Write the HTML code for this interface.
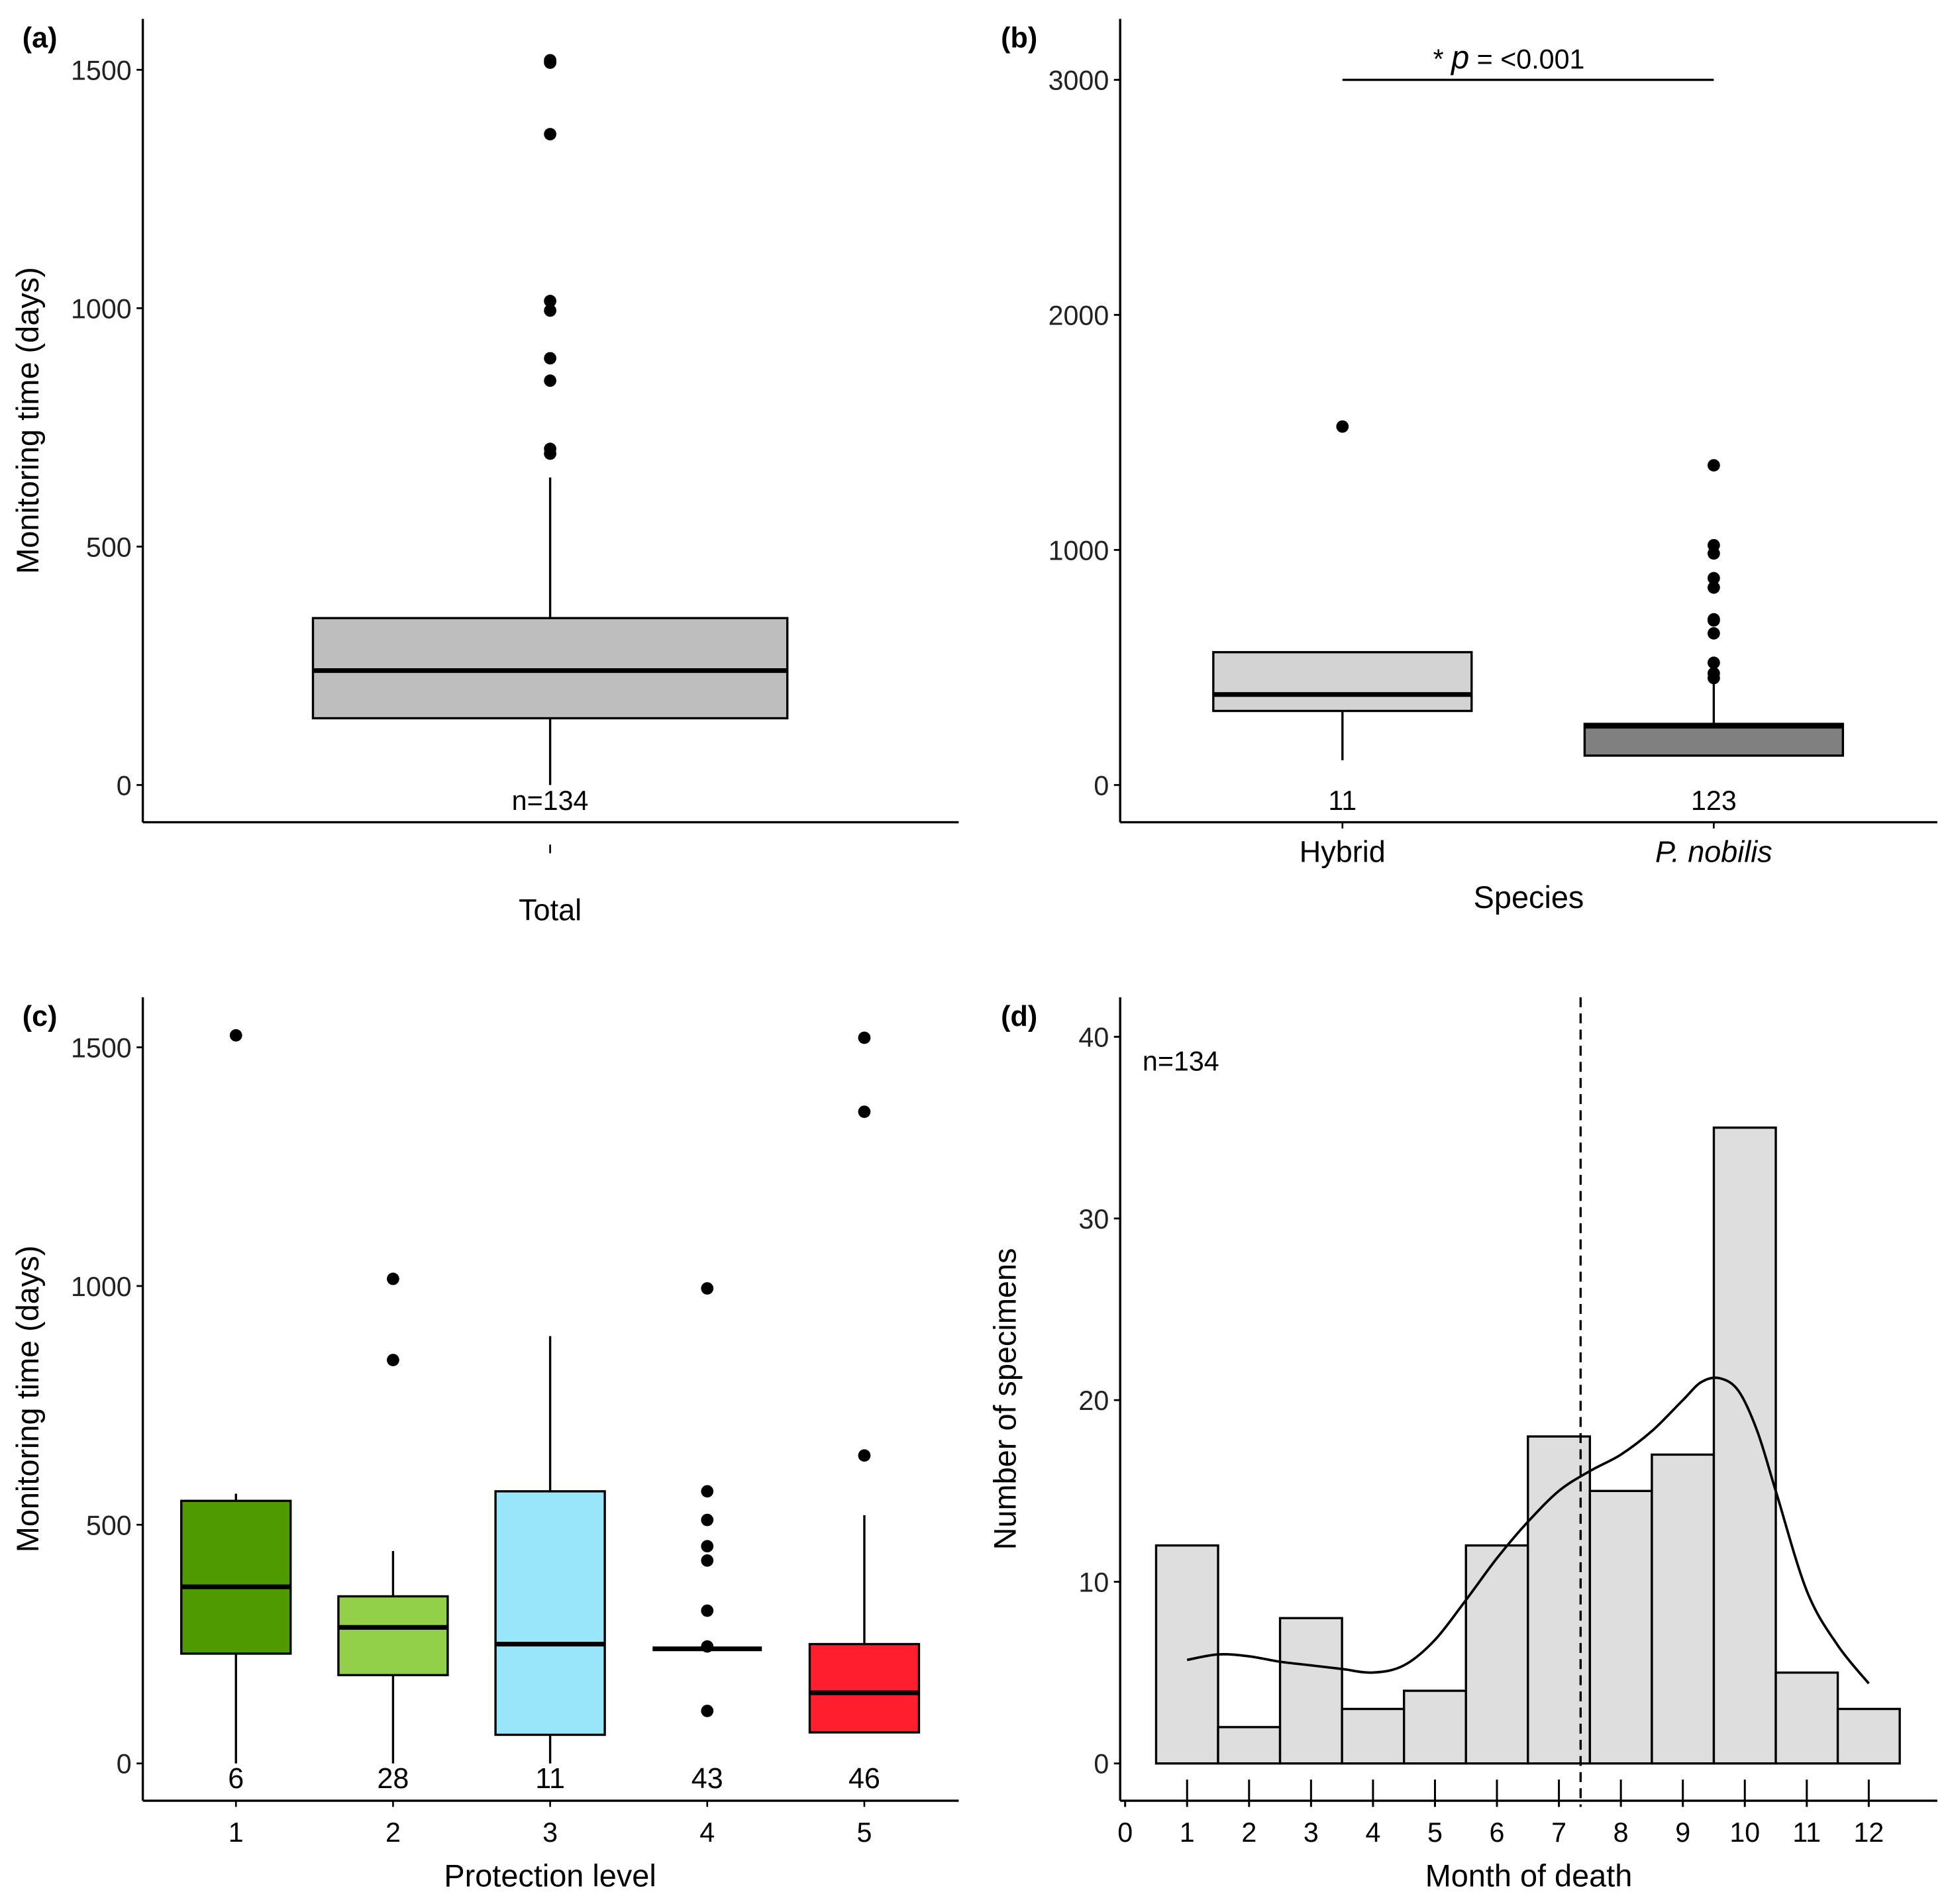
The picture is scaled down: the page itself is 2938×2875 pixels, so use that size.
<!DOCTYPE html>
<html><head><meta charset="utf-8"><style>
html,body{margin:0;padding:0;background:#fff}
svg{display:block;font-family:"Liberation Sans",sans-serif}
</style></head><body>
<svg id="fig" xmlns="http://www.w3.org/2000/svg" width="2938" height="2875" viewBox="0 0 1567 1533">
<rect width="1567" height="1533" fill="#fff"/>
</svg>
<script>
// Panel a data
const aStats = [140, 240, 350, 0, 645]; // q1, median, q3, whiskerLow, whiskerHigh
const aOutliers = [1520, 1515, 1365, 1015, 995, 895, 848, 705, 695];
const aTicks = [0, 500, 1000, 1500];
// Panel b data
const bCategories = ["Hybrid", "P. nobilis"];
const bCounts = ["11", "123"];
const bStats = [[315, 385, 565, 105, 315], [125, 250, 260, 125, 450]];
const bOutliers = [[1525], [455, 475, 520, 645, 700, 705, 840, 880, 985, 1020, 1360]];
const bTicks = [0, 1000, 2000, 3000];
// Panel c data
const cCategories = ["1", "2", "3", "4", "5"];
const cCounts = ["6", "28", "11", "43", "46"];
const cStats = [[230, 370, 550, 0, 565], [185, 285, 350, 0, 445], [60, 250, 570, 0, 895], [240, 240, 240, 240, 240], [65, 148, 250, 65, 520]];
const cOutliers = [[1525], [1015, 845], [], [995, 570, 510, 455, 425, 320, 245, 110], [645, 1365, 1520]];
const cColors = ["#4f9a00", "#92d04a", "#99e6fb", "#ffffff", "#ff1e2d"];
const cTicks = [0, 500, 1000, 1500];
// Panel d data
const dMonths = [1, 2, 3, 4, 5, 6, 7, 8, 9, 10, 11, 12];
const dCounts = [12, 2, 8, 3, 4, 12, 18, 15, 17, 35, 5, 3];
const dDensX = [1, 1.5, 2, 2.5, 3, 3.5, 4, 4.5, 5, 5.5, 6, 6.5, 7, 7.5, 8, 8.5, 9, 9.3, 9.6, 9.9, 10.2, 10.5, 11, 11.5, 12];
const dDensY = [5.7, 6.0, 5.9, 5.6, 5.4, 5.2, 5.0, 5.4, 6.8, 9.0, 11.3, 13.3, 15.0, 16.1, 17.0, 18.3, 20.0, 21.0, 21.2, 20.5, 18.3, 15.0, 9.5, 6.5, 4.4];
const dMeanLine = 7.35;
const dYTicks = [0, 10, 20, 30, 40];
const dXTicks = [0,1,2,3,4,5,6,7,8,9,10,11,12];

const NS = "http://www.w3.org/2000/svg";
const svg = document.getElementById("fig");
function mk(tag, attrs, parent, txt) {
  const e = document.createElementNS(NS, tag);
  for (const k in attrs) e.setAttribute(k, attrs[k]);
  if (txt !== undefined) e.textContent = txt;
  (parent || svg).appendChild(e);
  return e;
}
function grp(name) {
  const g = mk("g", {});
  
  
  return g;
}
function axes(g, left, bottom, right, top, yTicks, ys, yTitle, ytx) {
  mk("line", {x1: left, y1: top, x2: left, y2: bottom, stroke: "#000", "stroke-width": 1.8}, g);
  mk("line", {x1: left, y1: bottom, x2: right, y2: bottom, stroke: "#000", "stroke-width": 1.8}, g);
  yTicks.forEach(t => {
    mk("line", {x1: left - 5, y1: ys(t), x2: left, y2: ys(t), stroke: "#000", "stroke-width": 1.5}, g);
    const tx = mk("text", {x: left - 9, y: ys(t) + 8, "text-anchor": "end", "font-size": 22, fill: "#222"}, g, String(t));
    
    
  });
  const yc = (top + bottom) / 2;
  const tt = mk("text", {x: ytx, y: yc, "text-anchor": "middle", "font-size": 25, transform: `rotate(-90 ${ytx} ${yc})`}, g, yTitle);
  
  
}
function box(g, cx, hw, st, ys, fill, outl, name) {
  const bg = mk("g", {}, g);
  
  
  const [q1, med, q3, lo, hi] = st;
  mk("line", {x1: cx, y1: ys(q3), x2: cx, y2: ys(hi), stroke: "#000", "stroke-width": 1.8}, bg);
  mk("line", {x1: cx, y1: ys(q1), x2: cx, y2: ys(lo), stroke: "#000", "stroke-width": 1.8}, bg);
  if (q3 > q1) mk("rect", {x: cx - hw, y: ys(q3), width: 2 * hw, height: ys(q1) - ys(q3), fill: fill, stroke: "#000", "stroke-width": 1.8}, bg);
  mk("line", {x1: cx - hw, y1: ys(med), x2: cx + hw, y2: ys(med), stroke: "#000", "stroke-width": 3.8}, bg);
  outl.forEach(o => {
    const c = mk("circle", {cx: cx, cy: ys(o), r: 5, fill: "#000"}, bg);
    
    
  });
}
function label(g, x, y, txt, name, size, extra) {
  const t = mk("text", Object.assign({x: x, y: y, "text-anchor": "middle", "font-size": size || 25}, extra || {}), g, txt);
  
  
  return t;
}

// ---- Panel a ----
{
  const g = grp("panel-a");
  const ys = v => 632 - v * 0.384;
  axes(g, 115, 662, 772, 15, aTicks, ys, "Monitoring time (days)", 31);
  box(g, 443, 191, aStats, ys, "#bebebe", aOutliers, "box-total");
  label(g, 443, 652, "n=134", "count-label", 22);
  mk("line", {x1: 443, y1: 680, x2: 443, y2: 687, stroke: "#000", "stroke-width": 1.4}, g);
  label(g, 443, 741, "Total", "x-tick-label", 24);
  label(g, 18, 38, "(a)", "panel-label", 23, {"text-anchor": "start", "font-weight": "bold"});
}
// ---- Panel b ----
{
  const g = grp("panel-b");
  const ys = v => 632 - v * 0.1893;
  const xs = i => 1081 + i * 299;
  axes(g, 902, 662, 1560, 15, bTicks, ys, "", 820);
  const fills = ["#d3d3d3", "#808080"];
  bCategories.forEach((c, i) => {
    box(g, xs(i), 104, bStats[i], ys, fills[i], bOutliers[i], "box-" + i);
    label(g, xs(i), 652, bCounts[i], "count-label", 22);
    mk("line", {x1: xs(i), y1: 662, x2: xs(i), y2: 667, stroke: "#000", "stroke-width": 1.4}, g);
    label(g, xs(i), 694, c, "x-tick-label", 24, i === 1 ? {"font-style": "italic"} : {});
  });
  label(g, 1231, 731, "Species", "x-axis-title", 25);
  mk("line", {x1: xs(0), y1: ys(3000), x2: xs(1), y2: ys(3000), stroke: "#000", "stroke-width": 1.8}, g);
  const t = label(g, 1215, 55, "", "significance-label", 22);
  mk("tspan", {}, t, "* ");
  mk("tspan", {"font-style": "italic", "font-size": 26}, t, "p");
  mk("tspan", {}, t, " = <0.001");
  label(g, 806, 38, "(b)", "panel-label", 23, {"text-anchor": "start", "font-weight": "bold"});
}
// ---- Panel c ----
{
  const g = grp("panel-c");
  const ys = v => 1420 - v * 0.3845;
  const xs = i => 190 + i * 126.5;
  axes(g, 115, 1450, 772, 803, cTicks, ys, "Monitoring time (days)", 31);
  cCategories.forEach((c, i) => {
    box(g, xs(i), 44, cStats[i], ys, cColors[i], cOutliers[i], "box-level-" + c);
    label(g, xs(i), 1440, cCounts[i], "count-label", 23);
    mk("line", {x1: xs(i), y1: 1450, x2: xs(i), y2: 1455, stroke: "#000", "stroke-width": 1.4}, g);
    label(g, xs(i), 1483, c, "x-tick-label", 22);
  });
  label(g, 443, 1519, "Protection level", "x-axis-title", 25);
  label(g, 18, 826, "(c)", "panel-label", 23, {"text-anchor": "start", "font-weight": "bold"});
}
// ---- Panel d ----
{
  const g = grp("panel-d");
  const xs = v => 906 + v * 49.9;
  const ys = v => 1420 - v * 14.63;
  axes(g, 902, 1450, 1560, 803, dYTicks, ys, "Number of specimens", 818);
  dMonths.forEach((m, i) => {
    const r = mk("rect", {x: xs(m - 0.5), y: ys(dCounts[i]), width: xs(1) - xs(0), height: ys(0) - ys(dCounts[i]), fill: "#dedede", stroke: "#000", "stroke-width": 1.8}, g);
    
    
  });
  const P = dDensX.map((x, i) => [xs(x), ys(dDensY[i])]);
  let d = "M" + P[0][0].toFixed(1) + " " + P[0][1].toFixed(1);
  for (let i = 0; i < P.length - 1; i++) {
    const p0 = P[Math.max(0, i - 1)], p1 = P[i], p2 = P[i + 1], p3 = P[Math.min(P.length - 1, i + 2)];
    const c1 = [p1[0] + (p2[0] - p0[0]) / 6, p1[1] + (p2[1] - p0[1]) / 6];
    const c2 = [p2[0] - (p3[0] - p1[0]) / 6, p2[1] - (p3[1] - p1[1]) / 6];
    d += ` C${c1[0].toFixed(1)} ${c1[1].toFixed(1)} ${c2[0].toFixed(1)} ${c2[1].toFixed(1)} ${p2[0].toFixed(1)} ${p2[1].toFixed(1)}`;
  }
  const p = mk("path", {d: d, fill: "none", stroke: "#000", "stroke-width": 2, "stroke-linejoin": "round"}, g);
  
  
  const ml = mk("line", {x1: xs(dMeanLine), y1: 803, x2: xs(dMeanLine), y2: 1455, stroke: "#000", "stroke-width": 1.8, "stroke-dasharray": "8 5"}, g);
  
  
  dXTicks.forEach(t => {
    mk("line", {x1: xs(t), y1: t === 0 ? 1450 : 1433, x2: xs(t), y2: 1455, stroke: "#000", "stroke-width": 1.6}, g);
    label(g, xs(t), 1483, String(t), "x-tick-label", 22);
  });
  label(g, 1231, 1519, "Month of death", "x-axis-title", 25);
  label(g, 920, 862, "n=134", "count-label", 22, {"text-anchor": "start"});
  label(g, 806, 826, "(d)", "panel-label", 23, {"text-anchor": "start", "font-weight": "bold"});
}
</script>
</body></html>
